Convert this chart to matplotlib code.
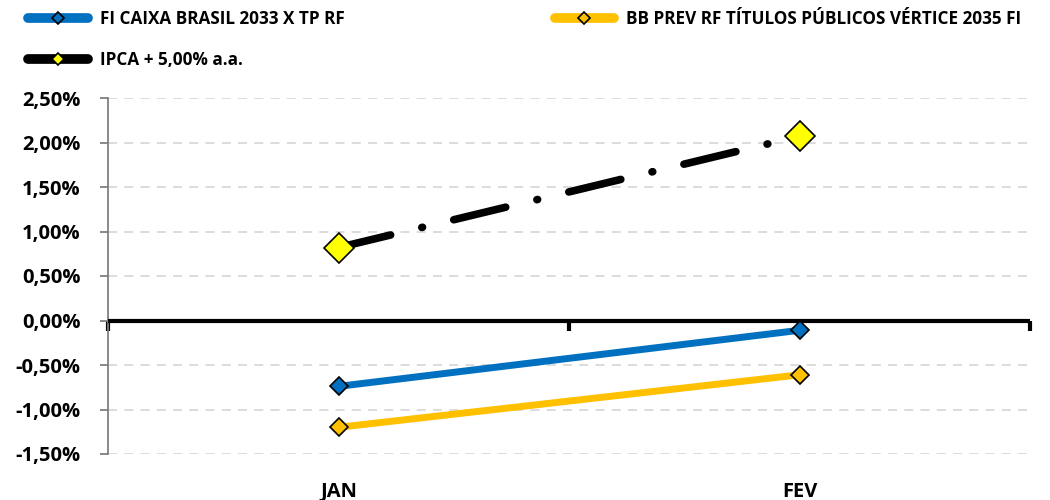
import matplotlib.pyplot as plt
from matplotlib.lines import Line2D
from matplotlib.ticker import FuncFormatter

plt.rcParams['font.family'] = ['Open Sans', 'DejaVu Sans']
plt.rcParams['font.weight'] = 'bold'

# Data (monthly accumulated return, %)
months = ["JAN", "FEV"]
caixa = [-0.74, -0.11]
bb_prev = [-1.20, -0.61]
ipca = [0.82, 2.07]

names = ["FI CAIXA BRASIL 2033 X TP RF",
         "BB PREV RF TÍTULOS PÚBLICOS VÉRTICE 2035 FI",
         "IPCA + 5,00% a.a."]

blue = "#0070C0"
gold = "#FFC000"

fig = plt.figure(figsize=(10.5, 5), dpi=100)
ax = fig.add_axes([0.103, 0.092, 0.878, 0.712])

x = [i + 0.5 for i in range(len(months))]

ax.plot(x, caixa, color=blue, lw=5, marker="D", ms=9,
        mfc=blue, mec="black", mew=1.2, zorder=4)
ax.plot(x, bb_prev, color=gold, lw=5, marker="D", ms=9,
        mfc=gold, mec="black", mew=1.2, zorder=4)
ax.plot(x, ipca, color="black", lw=5.5, dashes=(7, 4.2, 0.1, 4.2),
        dash_capstyle="round", marker="D", ms=15,
        mfc="#FFFF00", mec="black", mew=1.2, zorder=5)

ax.set_xlim(0, len(months))
ax.set_ylim(-1.5, 2.5)
ax.set_yticks([-1.5, -1.0, -0.5, 0, 0.5, 1.0, 1.5, 2.0, 2.5])
ax.yaxis.set_major_formatter(
    FuncFormatter(lambda v, p: f"{v:.2f}%".replace(".", ",")))
ax.yaxis.grid(True, color="#d9d9d9", linestyle=(0, (5, 4)), lw=1.3)
ax.set_axisbelow(True)

ax.set_xticks(x)
ax.set_xticklabels(months)
ax.tick_params(axis="x", length=0, pad=20, labelsize=14.5)
ax.tick_params(axis="y", length=6, width=1.3, color="#808080",
               labelsize=14.5, pad=14)

for s in ["top", "right", "bottom"]:
    ax.spines[s].set_visible(False)
ax.spines["left"].set_color("#808080")
ax.spines["left"].set_linewidth(1.3)

# zero axis with category boundary tick marks
ax.axhline(0, color="black", lw=3, zorder=3)
zero = ax.secondary_xaxis((0 - (-1.5)) / 4.0)
zero.set_xticks(range(len(months) + 1))
zero.set_xticklabels([])
zero.spines["bottom"].set_visible(False)
zero.tick_params(direction="out", length=7, width=3, color="black")

handles = [
    Line2D([], [], color=blue, lw=7, solid_capstyle="round", marker="D",
           ms=6, mfc=blue, mec="black", mew=1.2),
    Line2D([], [], color="black", lw=7, solid_capstyle="round", marker="D",
           ms=6, mfc="#FFFF00", mec="black", mew=1.2),
    Line2D([], [], color=gold, lw=7, solid_capstyle="round", marker="D",
           ms=6, mfc=gold, mec="black", mew=1.2),
]
fig.legend(handles, [names[0], names[2], names[1]], ncol=2,
           loc="upper left", bbox_to_anchor=(0.012, 1.01), frameon=False,
           fontsize=12.3, handlelength=3.5, handletextpad=0.7,
           columnspacing=12.3, labelspacing=1.3)

fig.savefig("out.png", dpi=100)
